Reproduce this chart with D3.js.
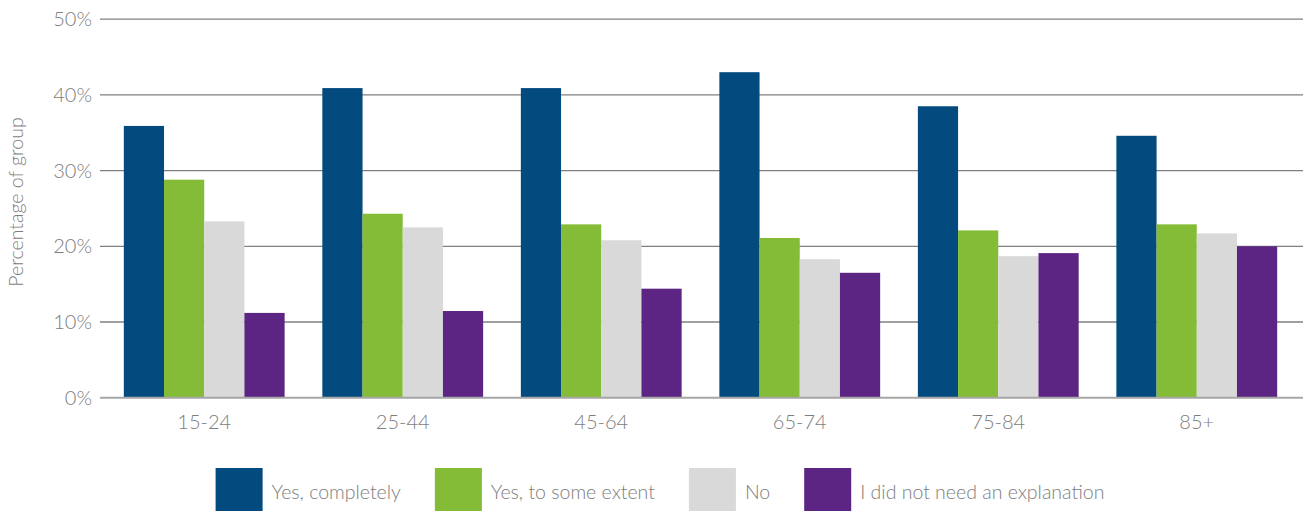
<!DOCTYPE html>
<html>
<head>
<meta charset="utf-8">
<script src="https://cdn.jsdelivr.net/npm/d3@7"></script>
<style>
  body { margin: 0; background: #fff; }
  text { font-family: Lato, "Open Sans", sans-serif; font-weight: 300; fill: #7d7d7d; }
</style>
</head>
<body>
<div id="chart"></div>
<script>
// data
var groups = ["15-24", "25-44", "45-64", "65-74", "75-84", "85+"];
var seriesNames = ["Yes, completely", "Yes, to some extent", "No", "I did not need an explanation"];
var seriesColors = ["#034a7e", "#84bc37", "#d9d9d9", "#5c2483"];
var completely = [35.9, 40.9, 40.9, 43.0, 38.5, 34.6];
var someExtent = [28.8, 24.3, 22.9, 21.1, 22.1, 22.9];
var no = [23.3, 22.5, 20.8, 18.3, 18.7, 21.7];
var noNeed = [11.2, 11.45, 14.4, 16.5, 19.1, 20.0];
var yTicks = [0, 10, 20, 30, 40, 50];

var series = [completely, someExtent, no, noNeed];

var width = 1303,
    height = 511;

var svg = d3.select("#chart").append("svg")
    .attr("width", width)
    .attr("height", height);

var x0 = d3.scaleBand()
    .domain(groups)
    .range([100, 1301])
    .paddingInner(0.19)
    .paddingOuter(0.12);

var x1 = d3.scaleBand()
    .domain(d3.range(seriesNames.length))
    .range([0, x0.bandwidth()]);

var y = d3.scaleLinear()
    .domain([0, 50])
    .range([397.7, 19.2]);

// gridlines
svg.append("g")
    .selectAll("line")
    .data(yTicks.filter(function (d) { return d > 0; }))
    .enter().append("line")
    .attr("x1", 100)
    .attr("x2", width)
    .attr("y1", function (d) { return y(d); })
    .attr("y2", function (d) { return y(d); })
    .attr("stroke", "#808080")
    .attr("stroke-width", 1.3);

// y labels
svg.append("g")
    .selectAll("text")
    .data(yTicks)
    .enter().append("text")
    .attr("x", 92)
    .attr("y", function (d) { return y(d); })
    .attr("dy", "0.35em")
    .attr("text-anchor", "end")
    .style("font-size", "20px")
    .text(function (d) { return d + "%"; });

// bars
var g = svg.append("g")
    .selectAll("g")
    .data(groups)
    .enter().append("g")
    .attr("transform", function (d) { return "translate(" + x0(d) + ",0)"; });

g.selectAll("rect")
    .data(function (d, i) {
        return series.map(function (s, k) { return { k: k, v: s[i] }; });
    })
    .enter().append("rect")
    .attr("x", function (d) { return x1(d.k); })
    .attr("width", x1.bandwidth())
    .attr("y", function (d) { return y(d.v); })
    .attr("height", function (d) { return y(0) - y(d.v); })
    .attr("fill", function (d) { return seriesColors[d.k]; });

// baseline
svg.append("line")
    .attr("x1", 100)
    .attr("x2", width)
    .attr("y1", y(0))
    .attr("y2", y(0))
    .attr("stroke", "#a6a6a6")
    .attr("stroke-width", 2);

// x labels
svg.append("g")
    .selectAll("text")
    .data(groups)
    .enter().append("text")
    .attr("x", function (d) { return x0(d) + x0.bandwidth() / 2; })
    .attr("y", 429)
    .attr("text-anchor", "middle")
    .style("font-size", "20px")
    .text(function (d) { return d; });

// y title
svg.append("text")
    .attr("transform", "translate(23,202) rotate(-90)")
    .attr("text-anchor", "middle")
    .style("font-size", "19.5px")
    .text("Percentage of group");

// legend
var legend = svg.append("g");
var lx = 0;
seriesNames.forEach(function (name, i) {
    var item = legend.append("g").attr("transform", "translate(" + lx + ",0)");
    item.append("rect")
        .attr("x", 0)
        .attr("y", 468)
        .attr("width", 47)
        .attr("height", 47)
        .attr("fill", seriesColors[i]);
    var t = item.append("text")
        .attr("x", 56)
        .attr("y", 499)
        .style("font-size", "19.5px")
        .text(name);
    lx += 56 + t.node().getComputedTextLength() + 34;
});
var legendW = lx - 34;
legend.attr("transform", "translate(" + (660 - legendW / 2) + ",0)");
</script>
</body>
</html>
